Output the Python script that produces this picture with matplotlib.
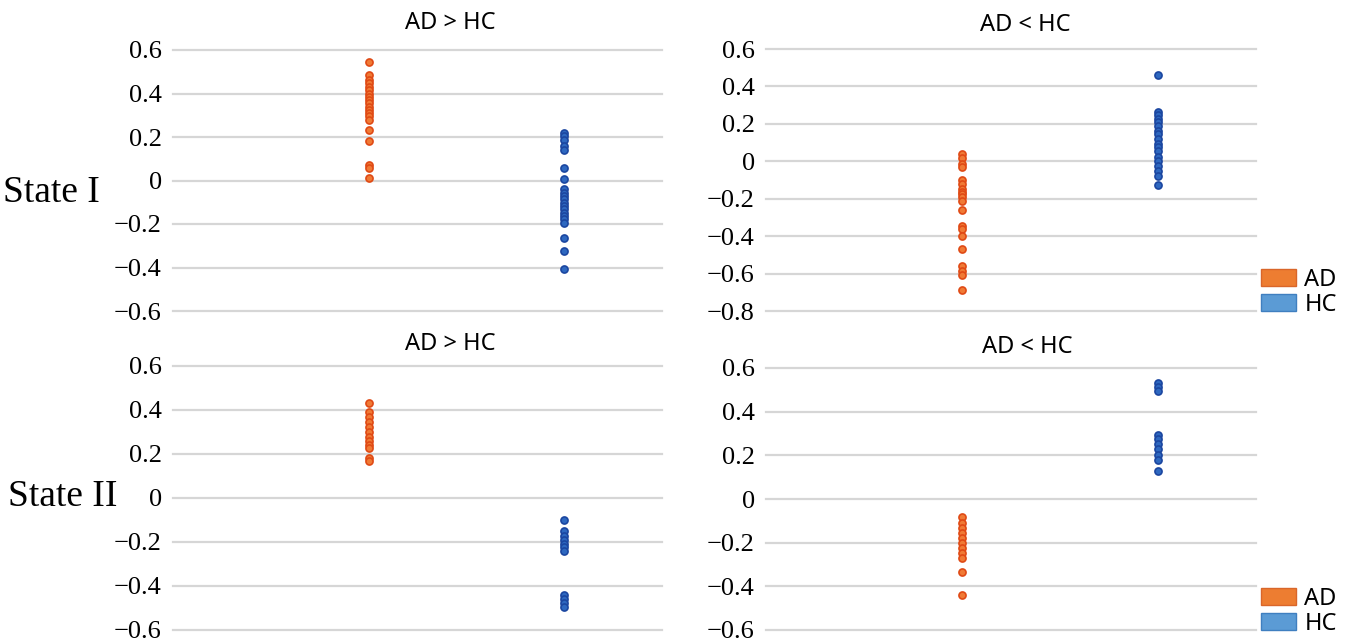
import matplotlib.pyplot as plt
from matplotlib.patches import Patch

# State I, AD > HC
s1_up_ad = [0.545, 0.487, 0.46, 0.447, 0.43, 0.417, 0.40, 0.386, 0.37, 0.356, 0.34,
            0.325, 0.31, 0.295, 0.279, 0.231, 0.182, 0.069, 0.058, 0.011]
s1_up_hc = [0.218, 0.203, 0.188, 0.157, 0.142, 0.056, 0.005, -0.041, -0.056, -0.072,
            -0.087, -0.102, -0.118, -0.133, -0.148, -0.163, -0.179, -0.194, -0.264,
            -0.322, -0.405]
# State I, AD < HC
s1_dn_ad = [0.039, 0.018, -0.014, -0.032, -0.10, -0.121, -0.148, -0.165, -0.175, -0.193,
            -0.211, -0.261, -0.345, -0.363, -0.40, -0.47, -0.559, -0.586, -0.609, -0.686]
s1_dn_hc = [0.4625, 0.266, 0.245, 0.227, 0.209, 0.186, 0.164, 0.146, 0.12, 0.093,
            0.075, 0.057, 0.025, 0.004, -0.023, -0.05, -0.077, -0.125]
# State II, AD > HC
s2_up_ad = [0.43, 0.39, 0.367, 0.347, 0.325, 0.302, 0.276, 0.257, 0.242, 0.226,
            0.181, 0.166]
s2_up_hc = [-0.101, -0.151, -0.171, -0.189, -0.207, -0.223, -0.242, -0.442, -0.46,
            -0.479, -0.497]
# State II, AD < HC
s2_dn_ad = [-0.083, -0.11, -0.133, -0.156, -0.179, -0.202, -0.224, -0.247, -0.27,
            -0.336, -0.441]
s2_dn_hc = [0.532, 0.514, 0.496, 0.293, 0.274, 0.252, 0.228, 0.202, 0.179, 0.130]

ticks_a = [0.6, 0.4, 0.2, 0, -0.2, -0.4, -0.6]
ticks_b = [0.6, 0.4, 0.2, 0, -0.2, -0.4, -0.6, -0.8]

ad_face, ad_edge = '#F07A35', '#E04A15'
hc_face, hc_edge = '#2E68C0', '#1B46A0'
leg_ad, leg_hc = '#ED7D31', '#5B9BD5'

W, H = 1352, 642
fig = plt.figure(figsize=(W / 100, H / 100), dpi=100)


def px_axes(x0, x1, ytop, ybot):
    return fig.add_axes([x0 / W, 1 - ybot / H, (x1 - x0) / W, (ybot - ytop) / H])


def panel(ax, ad, hc, ticks):
    ax.scatter([1] * len(ad), ad, s=26, c=ad_face, edgecolors=ad_edge, linewidths=1.2, zorder=3)
    ax.scatter([2] * len(hc), hc, s=26, c=hc_face, edgecolors=hc_edge, linewidths=1.2, zorder=3)
    ax.set_xlim(0, 2.5)
    ax.set_ylim(min(ticks), max(ticks))
    ax.set_yticks(ticks)
    ax.set_yticklabels(['0' if t == 0 else f'{t:.1f}'.replace('-', '\u2212') for t in ticks],
                       family='Liberation Serif', fontsize=19)
    ax.tick_params(axis='y', length=0, pad=8)
    ax.set_xticks([])
    for sp in ax.spines.values():
        sp.set_visible(False)
    ax.grid(axis='y', color='#D6D6D6', lw=1.6, zorder=0)
    ax.set_axisbelow(True)
    for t in ax.get_ygridlines():
        t.set_clip_on(False)


ax1 = px_axes(173, 662, 50, 311)
ax2 = px_axes(766, 1256, 49, 311)
ax3 = px_axes(173, 662, 366, 630)
ax4 = px_axes(766, 1256, 368, 630)

panel(ax1, s1_up_ad, s1_up_hc, ticks_a)
panel(ax2, s1_dn_ad, s1_dn_hc, ticks_b)
panel(ax3, s2_up_ad, s2_up_hc, ticks_a)
panel(ax4, s2_dn_ad, s2_dn_hc, ticks_a)

# panel titles
title_kw = dict(family='Noto Sans', fontsize=17, ha='center', va='center')
fig.text(450 / W, 1 - 23 / H, 'AD > HC', **title_kw)
fig.text(1025 / W, 1 - 25 / H, 'AD < HC', **title_kw)
fig.text(450 / W, 1 - 344 / H, 'AD > HC', **title_kw)
fig.text(1027 / W, 1 - 347 / H, 'AD < HC', **title_kw)

handles = [Patch(facecolor=leg_ad, edgecolor='#D9662A', label='AD'),
           Patch(facecolor=leg_hc, edgecolor='#3F7FC0', label='HC')]
for ax in (ax2, ax4):
    ax.legend(handles=handles, loc='lower left', bbox_to_anchor=(1.0, -0.04), frameon=False,
              prop={'family': 'Noto Sans', 'size': 17, 'weight': 'medium'}, handlelength=1.5,
              handleheight=0.75, handletextpad=0.35, labelspacing=0.05, borderaxespad=0.2,
              borderpad=0)

fig.text(3 / W, 1 - 193 / H, 'State I', family='Liberation Serif', fontsize=27,
         va='center', ha='left')
fig.text(8 / W, 1 - 497 / H, 'State II', family='Liberation Serif', fontsize=27,
         va='center', ha='left')

fig.savefig('out.png', dpi=100)
